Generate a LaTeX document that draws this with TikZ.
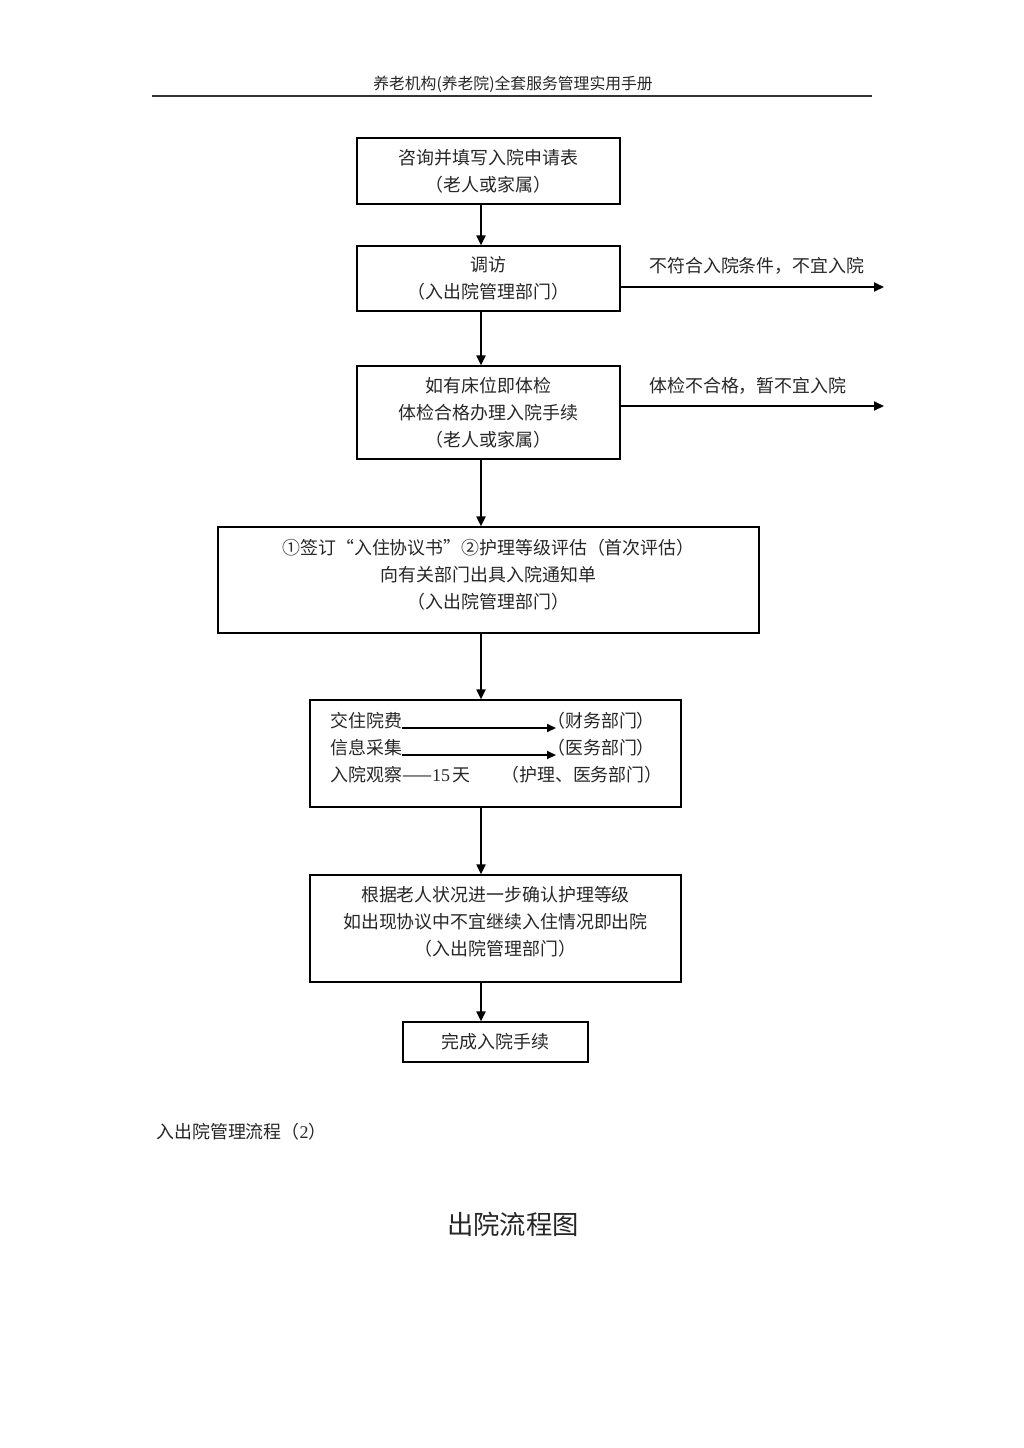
\documentclass[tikz,border=0pt]{standalone}
\usepackage{fontspec}
\setmainfont{Liberation Serif}
\newfontfamily\cjk{Noto Sans CJK SC}
\usetikzlibrary{arrows.meta,calc}

\begin{document}
\begin{tikzpicture}[x=0.02cm, y=-0.02cm, >={Triangle[length=2mm,width=1.8mm]},
  caixa/.style={draw, line width=0.7pt, inner sep=0pt, align=center, text=black!85,
    font=\cjk\fontsize{10.2}{15.4}\selectfont},
  texto/.style={inner sep=0pt, align=center, text=black!85,
    font=\cjk\fontsize{10.2}{15.4}\selectfont},
  seta/.style={line width=1.1pt, ->},
  setinha/.style={line width=1pt, -{Triangle[length=1.8mm,width=1.6mm]}}]

  % Página
  \useasboundingbox (0,0) rectangle (1024,1448);

  % Cabeçalho
  \node[texto, font=\cjk\fontsize{9}{10}\selectfont] (cabecalho) at (513,84) {养老机构(养老院)全套服务管理实用手册};
  \coordinate (regraE) at (152,96);
  \coordinate (regraD) at (872,96);
  \draw[line width=0.9pt, black!80] (regraE) -- (regraD);

  % Eixo das setas verticais
  \coordinate (eixo) at (481,0);

  % Caixas do fluxo
  \node[caixa, minimum width=5.26cm, minimum height=1.32cm] (consulta) at (488.5,171) {咨询并填写入院申请表\\（老人或家属）};
  \node[caixa, minimum width=5.26cm, minimum height=1.30cm] (visita) at (488.5,278.5) {调访\\（入出院管理部门）};
  \node[caixa, minimum width=5.26cm, minimum height=1.86cm] (exame) at (488.5,412.5) {如有床位即体检\\体检合格办理入院手续\\（老人或家属）};

  \node[caixa, minimum width=10.82cm, minimum height=2.12cm] (acordo) at (488.5,580) {};
  \node[texto] (acordotxt) at (488.5,574.5) {①签订“入住协议书”②护理等级评估（首次评估）\\向有关部门出具入院通知单\\（入出院管理部门）};

  \node[caixa, minimum width=7.42cm, minimum height=2.14cm] (cadastro) at (495.5,753.5) {};
  \node[caixa, minimum width=7.42cm, minimum height=2.14cm] (confirma) at (495.5,928.5) {};
  \node[texto] (confirmatxt) at (495.5,922) {根据老人状况进一步确认护理等级\\如出现协议中不宜继续入住情况即出院\\（入出院管理部门）};

  \node[caixa, minimum width=3.70cm, minimum height=0.80cm] (conclui) at (495.5,1042) {完成入院手续};

  % Conteúdo da caixa de cadastro
  \node[texto, anchor=west] (taxa) at (330,721) {交住院费};
  \node[texto, anchor=west] (taxadept) at (547,721) {（财务部门）};
  \node[texto, anchor=west] (info) at (330,748) {信息采集};
  \node[texto, anchor=west] (infodept) at (547,748) {（医务部门）};
  \node[texto, anchor=west] (obs) at (330,775) {入院观察——{\rmfamily 15}\,天};
  \node[texto, anchor=west] (obsdept) at (501,775) {（护理、医务部门）};
  \draw[setinha] ([yshift=-0.14cm]taxa.east) -- ([xshift=0.18cm,yshift=-0.14cm]taxadept.west);
  \draw[setinha] ([yshift=-0.14cm]info.east) -- ([xshift=0.18cm,yshift=-0.14cm]infodept.west);

  % Setas verticais
  \draw[seta] (consulta.south -| eixo) -- (visita.north -| eixo);
  \draw[seta] (visita.south -| eixo) -- (exame.north -| eixo);
  \draw[seta] (exame.south -| eixo) -- (acordo.north -| eixo);
  \draw[seta] (acordo.south -| eixo) -- (cadastro.north -| eixo);
  \draw[seta] (cadastro.south -| eixo) -- (confirma.north -| eixo);
  \draw[seta] (confirma.south -| eixo) -- (conclui.north -| eixo);

  % Saídas à direita
  \coordinate (fim1) at (884,287);
  \coordinate (fim2) at (884,406);
  \draw[seta] (visita.east |- fim1) -- (fim1);
  \draw[seta] (exame.east |- fim2) -- (fim2);
  \node[texto, anchor=west] (recusa1) at (649,266) {不符合入院条件，不宜入院};
  \node[texto, anchor=west] (recusa2) at (649,386) {体检不合格，暂不宜入院};

  % Legenda e título seguinte
  \node[texto, anchor=west] (legenda) at (156,1132) {入出院管理流程（{\rmfamily 2}）};
  \node[texto, font=\cjk\fontsize{15}{18}\selectfont] (titulo) at (513,1224) {出院流程图};

\end{tikzpicture}
\end{document}
